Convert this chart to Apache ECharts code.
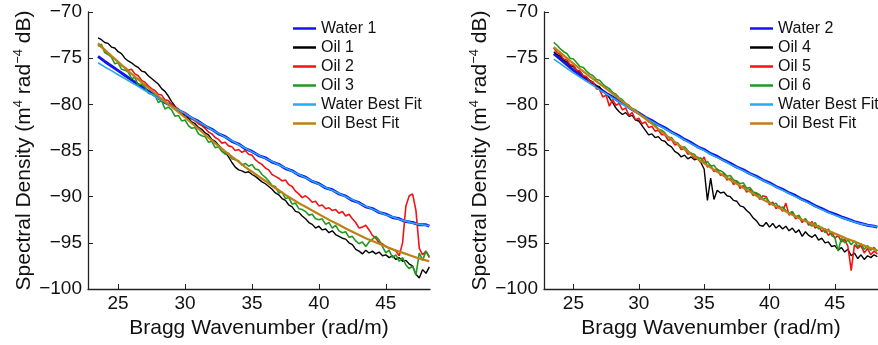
<!DOCTYPE html>
<html>
<head>
<meta charset="utf-8">
<script src="https://cdn.jsdelivr.net/npm/echarts@6/dist/echarts.min.js"></script>
<style>
html,body{margin:0;padding:0;background:#fff;}
#c{width:878px;height:345px;}
</style>
</head>
<body>
<div id="c"></div>
<script>
// Bragg wavenumber sampling grids (rad/m)
var waveFine = [23.5,23.75,24,24.25,24.5,24.75,25,25.25,25.5,25.75,26,26.25,26.5,26.75,27,27.25,27.5,27.75,28,28.25,28.5,28.75,29,29.25,29.5,29.75,30,30.25,30.5,30.75,31,31.25,31.5,31.75,32,32.25,32.5,32.75,33,33.25,33.5,33.75,34,34.25,34.5,34.75,35,35.25,35.5,35.75,36,36.25,36.5,36.75,37,37.25,37.5,37.75,38,38.25,38.5,38.75,39,39.25,39.5,39.75,40,40.25,40.5,40.75,41,41.25,41.5,41.75,42,42.25,42.5,42.75,43,43.25,43.5,43.75,44,44.25,44.5,44.75,45,45.25,45.5,45.75,46,46.25,46.5,46.75,47,47.25,47.5,47.75,48,48.25];
var waveCoarse = [23.5,24,24.5,25,25.5,26,26.5,27,27.5,28,28.5,29,29.5,30,30.5,31,31.5,32,32.5,33,33.5,34,34.5,35,35.5,36,36.5,37,37.5,38,38.5,39,39.5,40,40.5,41,41.5,42,42.5,43,43.5,44,44.5,45,45.5,46,46.5,47,47.5,48,48.25];

// Left panel (coarse grid)
var water1 = [-74.8,-75.35,-75.85,-76.35,-76.85,-77.35,-77.85,-78.35,-78.8,-79.3,-79.8,-80.15,-80.65,-81.0,-81.5,-81.85,-82.35,-82.7,-83.2,-83.5,-84.0,-84.3,-84.8,-85.1,-85.55,-85.8,-86.25,-86.5,-86.95,-87.2,-87.65,-87.9,-88.35,-88.6,-89.05,-89.25,-89.7,-89.95,-90.4,-90.65,-91.1,-91.3,-91.7,-91.9,-92.25,-92.4,-92.7,-92.8,-93.05,-93.05,-93.2];
var waterFit1 = [-75.5,-75.95,-76.35,-76.8,-77.2,-77.65,-78.05,-78.5,-78.9,-79.35,-79.75,-80.2,-80.6,-81.0,-81.45,-81.9,-82.3,-82.75,-83.15,-83.55,-83.95,-84.35,-84.75,-85.15,-85.5,-85.85,-86.2,-86.55,-86.9,-87.25,-87.6,-87.95,-88.3,-88.65,-89.0,-89.3,-89.65,-90.0,-90.35,-90.7,-91.05,-91.35,-91.65,-91.95,-92.2,-92.45,-92.65,-92.85,-93.0,-93.1,-93.15];
var oilFit1 = [-73.4,-74.1,-74.75,-75.4,-76.05,-76.7,-77.3,-77.9,-78.5,-79.1,-79.7,-80.25,-80.85,-81.4,-82.05,-82.65,-83.3,-83.9,-84.5,-85.1,-85.65,-86.2,-86.8,-87.3,-87.8,-88.3,-88.85,-89.3,-89.8,-90.25,-90.7,-91.1,-91.5,-91.9,-92.3,-92.7,-93.05,-93.45,-93.8,-94.15,-94.5,-94.8,-95.1,-95.4,-95.7,-95.95,-96.2,-96.45,-96.7,-96.9,-97.0];
// Left panel (fine grid)
var oil1 = [-72.8,-73.0,-73.3,-73.4,-73.8,-73.9,-74.3,-74.5,-75.0,-75.3,-75.5,-75.8,-76.0,-76.4,-76.5,-76.9,-77.2,-77.5,-77.8,-78.3,-78.6,-79.1,-79.7,-80.2,-80.6,-80.9,-81.3,-81.5,-81.9,-82.1,-82.5,-82.7,-83.1,-83.3,-83.8,-84.0,-84.4,-84.8,-85.2,-85.7,-86.3,-86.8,-87.1,-87.2,-87.4,-87.3,-87.6,-87.8,-88.1,-88.4,-88.6,-88.9,-89.2,-89.6,-89.8,-90.2,-90.4,-90.9,-91.1,-91.6,-91.7,-92.1,-92.4,-92.8,-93.0,-93.4,-93.2,-93.6,-93.5,-93.9,-93.7,-94.1,-94.3,-94.5,-94.6,-95.0,-95.2,-95.7,-95.9,-96.2,-95.8,-96.1,-95.9,-96.2,-96.0,-96.4,-96.3,-96.6,-96.4,-96.8,-96.6,-97.0,-96.9,-97.3,-97.5,-98.4,-98.8,-97.9,-98.3,-97.6];
var oil2 = [-73.5,-73.8,-74.1,-74.5,-74.8,-75.1,-75.4,-75.8,-76.0,-76.3,-76.2,-76.7,-76.9,-77.4,-77.6,-78.0,-78.3,-78.5,-78.9,-79.0,-79.5,-79.6,-80.0,-80.3,-80.5,-80.9,-80.9,-81.3,-81.5,-81.8,-82.1,-82.3,-82.6,-83.0,-83.2,-83.6,-83.8,-84.2,-84.1,-84.5,-84.6,-85.0,-84.9,-85.2,-85.0,-85.4,-85.5,-86.0,-86.3,-86.5,-86.9,-87.1,-87.6,-87.8,-88.0,-88.3,-88.2,-88.7,-88.9,-89.4,-89.7,-90.1,-89.9,-90.2,-90.6,-90.5,-91.0,-90.9,-91.3,-91.2,-91.5,-91.4,-91.8,-91.6,-92.1,-91.9,-92.4,-92.8,-93.4,-93.3,-93.1,-93.6,-94.2,-94.5,-95.0,-95.1,-95.4,-95.6,-95.7,-95.9,-96.4,-95.0,-91.0,-89.9,-89.7,-91.5,-95.6,-96.3,-95.9,-96.6];
var oil3 = [-73.7,-73.5,-74.4,-74.6,-74.9,-75.6,-75.5,-76.2,-76.3,-76.5,-77.2,-77.1,-77.9,-77.8,-78.1,-78.8,-78.9,-79.0,-79.8,-79.6,-80.5,-80.3,-80.6,-81.3,-81.2,-81.8,-81.7,-82.3,-82.6,-82.5,-83.2,-83.4,-83.5,-84.1,-84.0,-84.7,-84.6,-85.1,-85.4,-85.3,-85.9,-86.0,-86.1,-86.6,-86.4,-86.7,-86.5,-87.0,-87.1,-87.6,-87.9,-88.3,-88.8,-88.9,-89.6,-89.5,-90.2,-90.1,-90.8,-90.7,-91.3,-91.4,-91.6,-92.0,-91.9,-92.4,-92.5,-92.4,-93.0,-92.8,-93.4,-93.1,-93.7,-93.9,-93.8,-94.4,-94.3,-94.8,-95.1,-94.9,-95.4,-94.9,-94.6,-94.3,-94.7,-95.4,-96.1,-95.8,-96.6,-96.3,-97.0,-96.6,-97.4,-97.8,-97.5,-98.5,-96.1,-96.9,-95.9,-96.5];

// Right panel (coarse grid)
var water2 = [-74.5,-75.1,-75.7,-76.3,-76.8,-77.3,-77.8,-78.3,-78.8,-79.2,-79.7,-80.1,-80.55,-80.95,-81.4,-81.75,-82.2,-82.55,-83.0,-83.35,-83.8,-84.15,-84.6,-84.9,-85.35,-85.65,-86.05,-86.4,-86.8,-87.1,-87.5,-87.8,-88.2,-88.5,-88.9,-89.2,-89.6,-89.9,-90.3,-90.6,-91.0,-91.3,-91.65,-91.9,-92.2,-92.45,-92.7,-92.9,-93.1,-93.2,-93.3];
var waterFit2 = [-75.1,-75.6,-76.1,-76.6,-77.05,-77.5,-77.95,-78.4,-78.85,-79.3,-79.75,-80.2,-80.6,-81.05,-81.45,-81.85,-82.25,-82.65,-83.05,-83.45,-83.85,-84.25,-84.65,-85.0,-85.4,-85.75,-86.1,-86.5,-86.85,-87.2,-87.55,-87.9,-88.25,-88.6,-88.95,-89.3,-89.65,-90.0,-90.35,-90.7,-91.05,-91.4,-91.7,-92.0,-92.25,-92.5,-92.75,-92.95,-93.1,-93.2,-93.25];
var oilFit2 = [-73.8,-74.4,-75.0,-75.6,-76.15,-76.7,-77.25,-77.75,-78.3,-78.85,-79.4,-79.95,-80.5,-81.0,-81.55,-82.1,-82.7,-83.25,-83.8,-84.35,-84.85,-85.4,-85.9,-86.4,-86.85,-87.3,-87.75,-88.2,-88.6,-89.05,-89.45,-89.9,-90.3,-90.7,-91.05,-91.4,-91.8,-92.15,-92.5,-92.8,-93.1,-93.4,-93.7,-94.0,-94.3,-94.6,-94.85,-95.15,-95.45,-95.7,-95.85];
// Right panel (fine grid)
var oil4 = [-74.3,-74.6,-74.8,-75.2,-75.4,-75.8,-75.9,-76.3,-76.5,-76.9,-77.1,-77.4,-77.6,-78.0,-78.1,-78.6,-78.8,-79.3,-79.8,-80.4,-80.8,-81.1,-80.9,-81.3,-81.2,-81.7,-81.8,-82.3,-82.8,-83.3,-83.2,-83.6,-83.5,-83.9,-84.0,-84.4,-84.6,-85.1,-85.3,-85.7,-85.5,-85.9,-85.7,-86.0,-85.9,-86.3,-87.0,-90.4,-88.0,-90.3,-89.3,-89.6,-89.5,-89.9,-90.0,-90.4,-90.5,-91.0,-91.1,-91.5,-91.8,-92.3,-92.6,-93.1,-93.2,-92.8,-93.3,-92.9,-93.4,-93.1,-93.5,-93.2,-93.7,-93.4,-93.9,-93.6,-94.3,-93.8,-94.2,-94.4,-94.1,-94.7,-94.5,-95.0,-94.9,-95.4,-95.3,-95.8,-95.5,-96.0,-95.7,-96.4,-96.1,-96.7,-96.3,-96.8,-96.4,-96.6,-96.3,-96.5];
var oil5 = [-73.9,-74.4,-74.6,-75.1,-75.2,-75.7,-75.8,-76.3,-76.4,-76.9,-77.0,-77.5,-77.6,-78.3,-78.4,-79.2,-79.0,-80.2,-79.5,-80.1,-79.9,-80.6,-80.4,-81.2,-80.9,-81.7,-81.5,-82.1,-81.9,-82.5,-82.4,-82.9,-82.8,-83.3,-83.3,-83.9,-83.8,-84.4,-84.3,-84.9,-84.8,-85.4,-85.3,-85.9,-85.7,-86.3,-85.7,-86.8,-86.6,-87.3,-87.0,-87.7,-87.5,-88.2,-88.0,-88.7,-88.3,-89.1,-88.8,-89.5,-89.2,-89.9,-89.6,-90.3,-89.9,-90.0,-90.9,-90.6,-91.3,-91.0,-91.6,-90.7,-92.0,-91.7,-92.4,-92.1,-92.8,-92.4,-93.1,-92.7,-93.4,-93.1,-93.8,-93.5,-94.2,-93.8,-94.5,-94.2,-94.9,-94.6,-95.4,-98.0,-95.2,-95.6,-95.3,-96.1,-95.6,-96.3,-95.9,-96.2];
var oil6 = [-73.3,-73.6,-74.0,-74.3,-74.5,-75.0,-75.1,-75.5,-75.9,-76.0,-76.4,-76.7,-76.9,-77.3,-77.4,-77.8,-78.1,-78.3,-78.7,-78.9,-79.3,-79.5,-79.9,-80.1,-80.5,-80.6,-81.0,-81.3,-81.4,-81.9,-82.0,-82.2,-82.7,-82.8,-83.1,-83.6,-83.6,-84.1,-84.2,-84.7,-84.6,-85.0,-85.3,-85.4,-85.9,-85.8,-86.3,-86.2,-86.7,-86.6,-87.1,-87.2,-87.4,-87.8,-87.7,-88.2,-88.3,-88.6,-88.5,-89.1,-89.0,-89.5,-89.6,-89.8,-90.3,-90.1,-90.6,-90.9,-90.7,-91.3,-91.1,-91.5,-91.8,-91.6,-92.2,-92.0,-92.6,-92.4,-92.9,-93.2,-92.8,-93.5,-93.3,-93.9,-93.5,-94.2,-94.4,-95.9,-94.5,-95.0,-94.7,-95.2,-94.8,-95.4,-95.1,-95.7,-95.3,-95.8,-95.5,-95.9];

var xTickValues = [25, 30, 35, 40, 45];
var legendLeft = ['Water 1', 'Oil 1', 'Oil 2', 'Oil 3', 'Water Best Fit', 'Oil Best Fit'];
var legendRight = ['Water 2', 'Oil 4', 'Oil 5', 'Oil 6', 'Water Best Fit', 'Oil Best Fit'];
var xTitle = 'Bragg Wavenumber (rad/m)';
var yTitle = '{n|Spectral Density (m}{s|4}{n| rad}{s|\u22124}{n| dB)}';

var C = {water:'#1414ee', oilA:'#000000', oilB:'#f01414', oilC:'#1f9a1f', wfit:'#25aaf2', ofit:'#bd8118'};
var FONT = '"Liberation Sans", Arial, Helvetica, sans-serif';

function zip(xs, ys){ return xs.map(function(x,i){ return [x, ys[i]]; }); }
function minus(v){ return String(v).replace('-', '\u2212'); }

function xAx(idx){
  return {
    type:'value', gridIndex: idx, min: 22.75, max: 48.3,
    name: xTitle, nameLocation:'middle', nameGap: 27,
    nameTextStyle:{fontFamily:FONT, fontSize:21, color:'#111'},
    axisLine:{show:true, onZero:false, lineStyle:{color:'#222', width:1.3}},
    axisTick:{show:true, inside:true, length:5, customValues: xTickValues, lineStyle:{color:'#222'}},
    axisLabel:{customValues: xTickValues, margin:5, fontFamily:FONT, fontSize:19, color:'#111', formatter: minus},
    splitLine:{show:false}
  };
}
function yAx(idx){
  return {
    type:'value', gridIndex: idx, min:-100, max:-70, interval:5,
    name: yTitle, nameLocation:'middle', nameGap: 51, nameRotate: 90,
    nameTextStyle:{fontFamily:FONT, color:'#111',
      rich:{ n:{fontFamily:FONT, fontSize:21, color:'#111', lineHeight:26},
             s:{fontFamily:FONT, fontSize:13, color:'#111', lineHeight:26, padding:[0,0,10,0]} }},
    axisLine:{show:true, onZero:false, lineStyle:{color:'#222', width:1.3}},
    axisTick:{show:true, inside:true, length:5, lineStyle:{color:'#222'}},
    axisLabel:{margin:6, fontFamily:FONT, fontSize:19, color:'#111', formatter: minus},
    splitLine:{show:false}
  };
}
function ln(name, xs, ys, color, width, idx){
  return {type:'line', name:name, xAxisIndex:idx, yAxisIndex:idx, data: zip(xs, ys),
    symbol:'none', showSymbol:false, animation:false, lineStyle:{color:color, width:width}, itemStyle:{color:color}};
}
function leg(left, names){
  return {left:left, top:20.5, orient:'vertical', padding:0, itemWidth:23, itemHeight:14, itemGap:3,
    data: names, icon: 'path://M0,6 L23,6 L23,8.5 L0,8.5 Z',
    textStyle:{fontFamily:FONT, fontSize:16, lineHeight:16, color:'#111'}, selectedMode:false};
}

var chart = echarts.init(document.getElementById('c'), null, {renderer:'canvas'});
chart.setOption({
  animation:false,
  backgroundColor:'#fff',
  grid:[{left:88, top:12, width:342, height:277}, {left:544, top:12, width:342, height:277}],
  xAxis:[xAx(0), xAx(1)],
  yAxis:[yAx(0), yAx(1)],
  legend:[leg(293, legendLeft), leg(750, legendRight)],
  series:[
    ln('Water 1', waveCoarse, water1, C.water, 3, 0),
    ln('Oil 1', waveFine, oil1, C.oilA, 1.4, 0),
    ln('Oil 2', waveFine, oil2, C.oilB, 1.6, 0),
    ln('Oil 3', waveFine, oil3, C.oilC, 1.6, 0),
    ln('Water Best Fit', waveCoarse, waterFit1, C.wfit, 1.6, 0),
    ln('Oil Best Fit', waveCoarse, oilFit1, C.ofit, 2.2, 0),
    ln('Water 2', waveCoarse, water2, C.water, 3, 1),
    ln('Oil 4', waveFine, oil4, C.oilA, 1.4, 1),
    ln('Oil 5', waveFine, oil5, C.oilB, 1.6, 1),
    ln('Oil 6', waveFine, oil6, C.oilC, 1.6, 1),
    ln('Water Best Fit', waveCoarse, waterFit2, C.wfit, 1.6, 1),
    ln('Oil Best Fit', waveCoarse, oilFit2, C.ofit, 2.2, 1)
  ]
});
</script>
</body>
</html>
